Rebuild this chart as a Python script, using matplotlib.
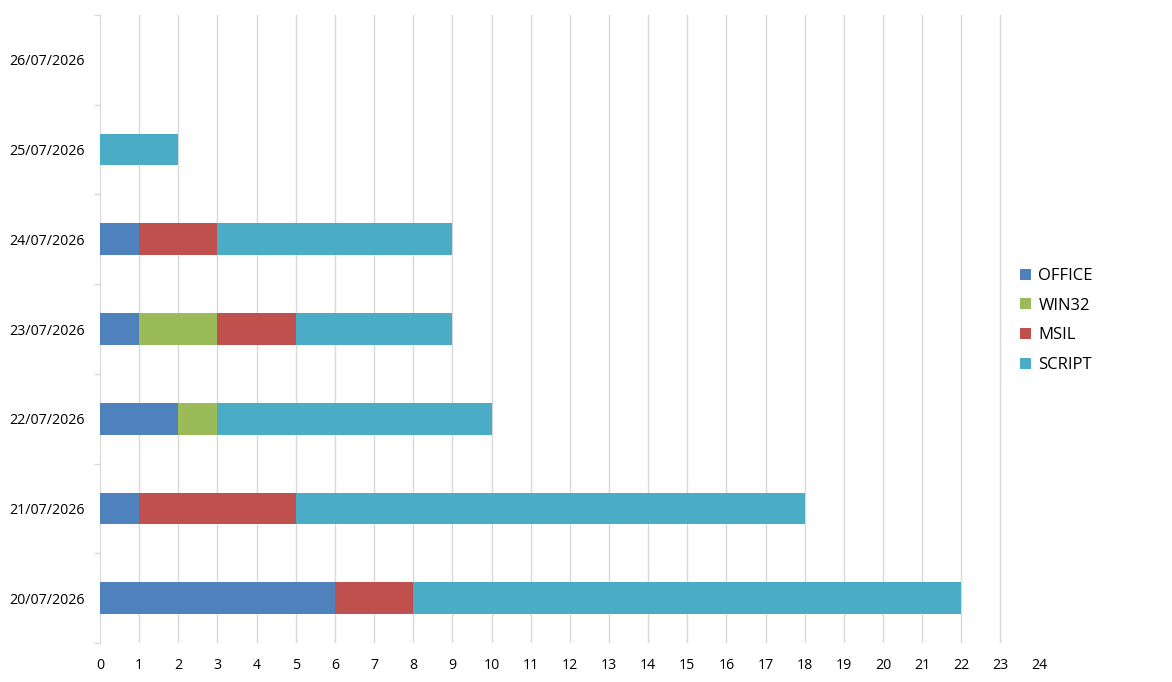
import numpy as np
import matplotlib.pyplot as plt

dates = ["20/07/2026", "21/07/2026", "22/07/2026", "23/07/2026",
         "24/07/2026", "25/07/2026", "26/07/2026"]
office = [6, 1, 2, 1, 1, 0, 0]
win32 = [0, 0, 1, 2, 0, 0, 0]
msil = [2, 4, 0, 2, 2, 0, 0]
script = [14, 13, 7, 4, 6, 2, 0]

series = [("OFFICE", office, "#4F81BD"),
          ("WIN32", win32, "#9BBB59"),
          ("MSIL", msil, "#C0504D"),
          ("SCRIPT", script, "#4BACC6")]

plt.rcParams['font.family'] = ['Open Sans', 'DejaVu Sans']

fig = plt.figure(figsize=(11.72, 6.82), dpi=100)
ax = fig.add_axes([100 / 1172, 1 - 643 / 682, 939.6 / 1172, 628 / 682])

y = np.arange(len(dates))
left = np.zeros(len(dates))
for name, vals, color in series:
    ax.barh(y, vals, left=left, height=0.353, color=color, label=name, zorder=3)
    left += np.array(vals)

ax.set_xlim(0, 24)
ax.set_ylim(-0.5, len(dates) - 0.5)
ax.set_xticks(range(0, 25))
ax.tick_params(axis='x', length=0, pad=11, labelsize=10.2)
for i in range(1, 24):
    ax.axvline(i, color="#D9D9D9", lw=1, zorder=1)

ax.set_yticks(y)
ax.set_yticklabels(dates)
ax.set_yticks(np.arange(-0.5, len(dates)), minor=True)
ax.tick_params(axis='y', which='major', length=0, pad=11, labelsize=10.3)
ax.tick_params(axis='y', which='minor', length=4, color="#D9D9D9", width=1)

for s in ["top", "right", "bottom"]:
    ax.spines[s].set_visible(False)
ax.spines["left"].set_color("#D9D9D9")

handles, labels = ax.get_legend_handles_labels()
leg = fig.legend(handles, labels, loc="upper left",
                 bbox_to_anchor=(1005 / 1172, 1 - 253 / 682),
                 frameon=False, fontsize=12, handlelength=0.65, handleheight=0.65,
                 handletextpad=0.45, labelspacing=0.82)

fig.savefig("out.png", dpi=100)
